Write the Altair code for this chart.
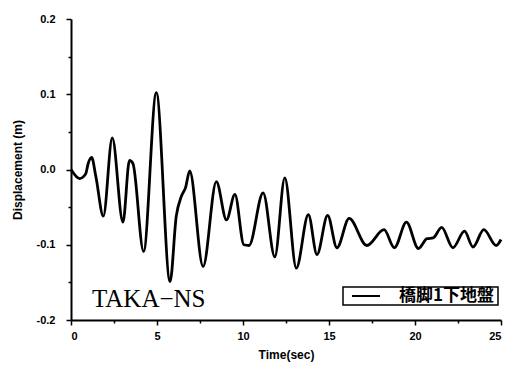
import altair as alt
import pandas as pd

# Time (sec) and displacement (m)
time_sec = [0.0, 0.5, 0.85, 1.0, 1.2, 1.45, 1.88, 2.4, 3.02, 3.4, 3.6, 4.22, 4.96, 5.76,
            6.12, 6.41, 6.66, 6.9, 7.68, 8.45, 9.04, 9.53, 10.05, 10.35, 11.17, 11.85,
            12.43, 13.1, 13.8, 14.3, 14.92, 15.46, 16.17, 17.2, 18.2, 18.8, 19.5, 20.2,
            20.7, 21.05, 21.55, 22.2, 22.88, 23.37, 24.0, 24.72, 25.0]
displacement = [0.0, -0.012, -0.006, 0.008, 0.016, -0.01, -0.062, 0.042, -0.070, 0.012, 0.008,
                -0.109, 0.102, -0.149, -0.062, -0.036, -0.024, -0.002, -0.129, -0.016, -0.067,
                -0.033, -0.100, -0.101, -0.031, -0.116, -0.011, -0.131, -0.060, -0.113, -0.061,
                -0.104, -0.065, -0.101, -0.080, -0.104, -0.070, -0.105, -0.092, -0.091, -0.077,
                -0.104, -0.082, -0.103, -0.080, -0.101, -0.093]
series_name = "橋脚1下地盤"
station_label = "TAKA−NS"

x_ticks = [0, 2.5, 5, 7.5, 10, 12.5, 15, 17.5, 20, 22.5, 25]
y_ticks = [-0.2, -0.15, -0.1, -0.05, 0.0, 0.05, 0.1, 0.15, 0.2]

df = pd.DataFrame({"t": time_sec, "d": displacement})

W, H = 430, 301
sans = "Liberation Sans"

line = alt.Chart(df).mark_line(
    interpolate="monotone", color="black", strokeWidth=2.8
).encode(
    x=alt.X("t:Q", scale=alt.Scale(domain=[0, 25], nice=False, zero=False),
            axis=alt.Axis(title="Time(sec)", values=x_ticks,
                          labelExpr="datum.value % 5 == 0 ? datum.label : ''",
                          tickSize={"condition": {"test": "datum.value % 5 != 0", "value": 3}, "value": 5},
                          labelPadding=5, titlePadding=8)),
    y=alt.Y("d:Q", scale=alt.Scale(domain=[-0.2, 0.2], nice=False, zero=False),
            axis=alt.Axis(title="Displacement (m)", values=y_ticks, format=".1f",
                          labelExpr="abs(round(datum.value*20)) % 2 == 1 ? '' : replace(datum.label, '−', '-')",
                          tickSize={"condition": {"test": "abs(round(datum.value*20)) % 2 == 1", "value": 3}, "value": 5},
                          labelPadding=11, titlePadding=12)),
)

# legend box (decoration)
legend_box = alt.Chart(pd.DataFrame({"k": [0]})).mark_rect(
    fill="white", stroke="black", strokeWidth=1.5
).encode(x=alt.value(272), x2=alt.value(427), y=alt.value(268), y2=alt.value(286))
legend_line = alt.Chart(pd.DataFrame({"k": [0]})).mark_rule(
    color="black", strokeWidth=2
).encode(x=alt.value(281), x2=alt.value(309), y=alt.value(277))
legend_text = alt.Chart(pd.DataFrame({"txt": [series_name]})).mark_text(
    font="Noto Sans CJK JP", fontSize=17, fontWeight="bold", align="right",
    baseline="middle", color="black"
).encode(text="txt:N", x=alt.value(423), y=alt.value(277))

label = alt.Chart(pd.DataFrame({"txt": [station_label]})).mark_text(
    font="Liberation Serif", fontSize=25, align="left", baseline="alphabetic", color="black"
).encode(text="txt:N", x=alt.value(21), y=alt.value(288))

chart = alt.layer(line, legend_box, legend_line, legend_text, label).properties(
    width=W, height=H,
    autosize=alt.AutoSizeParams(type="none"),
    padding={"left": 63, "top": 11, "right": 5, "bottom": 45},
).configure_view(stroke=None).configure_axis(
    domainColor="black", domainWidth=2, tickColor="black", tickWidth=1.5,
    grid=False, labelFont=sans, labelFontWeight="bold", labelFontSize=11, labelColor="black",
    titleFont=sans, titleFontWeight="bold", titleFontSize=12, titleColor="black",
)

chart.save("out.html", embed_options={"renderer": "svg", "actions": False})
